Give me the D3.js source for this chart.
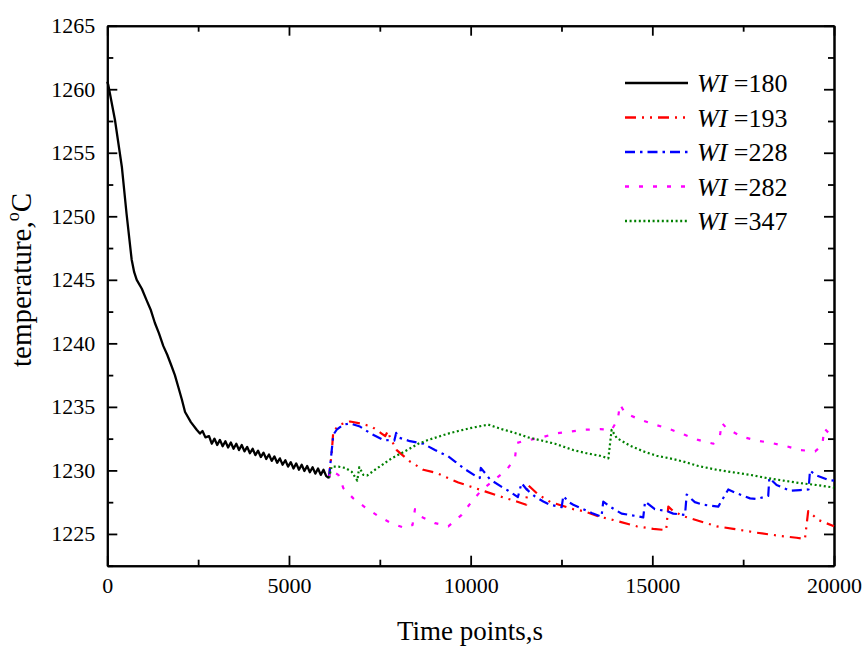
<!DOCTYPE html>
<html>
<head>
<meta charset="utf-8">
<script src="https://cdn.jsdelivr.net/npm/d3@7"></script>
<style>
  html, body { margin: 0; padding: 0; background: #ffffff; }
  svg { display: block; }
  text { font-family: "Liberation Serif", "Times New Roman", serif; fill: #000; }
</style>
</head>
<body>
<svg id="chart" width="862" height="646"></svg>
<script>
// ---------------- data ----------------
const xMajorTicks = [0, 5000, 10000, 15000, 20000];
const xMinorTicks = [2500, 7500, 12500, 17500];
const yMajorTicks = [1225, 1230, 1235, 1240, 1245, 1250, 1255, 1260, 1265];
const yMinorTicks = [1222.5, 1227.5, 1232.5, 1237.5, 1242.5, 1247.5, 1252.5, 1257.5, 1262.5];

const seriesNames = ["WI180", "WI193", "WI228", "WI282", "WI347"];
const legendValues = ["180", "193", "228", "282", "347"];
const seriesColors = ["#000000", "#ff0000", "#0000ff", "#ff00ff", "#008000"];

// WI = 180 : [time, temperature]
const wi180 = [
  [0,1260.6],[30,1260.3],[210,1257.6],[400,1253.9],[530,1250.2],[670,1246.6],[740,1245.6],
  [810,1245.0],[950,1244.3],[1080,1243.4],[1200,1242.6],[1310,1241.6],[1420,1240.8],[1540,1239.8],
  [1650,1239.1],[1770,1238.2],[1860,1237.5],[1950,1236.6],[2050,1235.6],[2140,1234.6],[2300,1233.8],
  [2460,1233.2],[2550,1232.9],[2620,1233.1],[2700,1232.6],
  [2800,1232.7],[2875,1232.1],[2950,1232.5],[3025,1232.0],[3100,1232.4],[3175,1231.9],
  [3250,1232.3],[3325,1231.8],[3400,1232.2],[3475,1231.7],[3550,1232.1],[3625,1231.6],
  [3700,1232.0],[3775,1231.5],[3850,1231.85],[3925,1231.35],[4000,1231.7],[4075,1231.2],
  [4150,1231.55],[4225,1231.05],[4300,1231.4],[4375,1230.9],[4450,1231.25],[4525,1230.75],
  [4600,1231.1],[4675,1230.6],[4750,1230.95],[4825,1230.45],[4900,1230.8],[4975,1230.3],
  [5050,1230.65],[5125,1230.15],[5200,1230.55],[5275,1230.05],[5350,1230.45],[5425,1229.95],
  [5500,1230.35],[5575,1229.85],[5650,1230.25],[5725,1229.75],[5800,1230.15],[5875,1229.65],
  [5950,1230.05],[6025,1229.55],[6100,1229.4]
];

// WI = 193
const wi193 = [
  [6100,1229.4],[6180,1231.5],[6220,1233.1],[6400,1233.6],[6680,1233.85],[6955,1233.7],
  [7276,1233.45],[7550,1232.9],[7650,1232.7],[7720,1233.1],[7780,1232.6],[7965,1231.6],
  [8330,1230.7],[8697,1230.05],[9065,1229.8],[9293,1229.5],[9660,1229.05],[10028,1228.7],
  [10394,1228.35],[10760,1228.0],[11267,1227.55],[11530,1227.3],[11560,1228.9],[11861,1228.1],
  [12200,1227.5],[12825,1226.95],[13100,1226.8],[13560,1226.35],[13925,1226.1],[14570,1225.6],
  [15025,1225.4],[15380,1225.3],[15440,1227.15],[15575,1226.8],[15850,1226.4],[16310,1226.0],
  [16770,1225.6],[17230,1225.4],[17870,1225.1],[18510,1224.85],[18970,1224.7],[19200,1224.6],
  [19290,1226.8],[19570,1226.1],[20000,1225.6]
];

// WI = 228
const wi228 = [
  [6100,1229.4],[6220,1232.8],[6313,1233.2],[6497,1233.6],[6680,1233.7],[6955,1233.45],
  [7250,1232.9],[7596,1232.4],[7900,1232.35],[7950,1232.95],[8000,1232.6],[8330,1232.3],
  [8700,1232.1],[9018,1231.6],[9385,1231.1],[9570,1230.7],[9844,1230.1],[10166,1229.5],
  [10250,1229.4],[10280,1230.2],[10394,1229.8],[10530,1229.3],[10855,1228.7],[11035,1228.4],
  [11300,1227.9],[11400,1229.0],[11542,1228.5],[11770,1227.95],[12000,1227.55],[12180,1227.3],
  [12505,1227.1],[12550,1228.0],[12700,1227.5],[12825,1227.3],[13055,1227.0],[13330,1226.65],
  [13600,1226.35],[13650,1227.55],[13835,1227.15],[14155,1226.6],[14570,1226.4],[14750,1226.3],
  [14800,1227.55],[15070,1226.95],[15395,1226.8],[15575,1226.6],[15900,1226.5],[15945,1228.1],
  [16170,1227.5],[16400,1227.3],[16815,1227.15],[17090,1228.5],[17320,1228.2],[17690,1227.8],
  [17870,1227.75],[18190,1228.0],[18220,1229.4],[18420,1228.85],[18790,1228.4],[19065,1228.45],
  [19300,1228.5],[19340,1230.0],[19480,1229.65],[19840,1229.25],[20000,1229.2]
];

// WI = 282
const wi282 = [
  [6100,1229.4],[6150,1230.0],[6360,1229.65],[6497,1228.6],[6770,1227.8],[7092,1227.1],
  [7458,1226.4],[7780,1225.9],[8193,1225.45],[8400,1225.7],[8468,1226.95],[8605,1226.4],
  [9018,1225.85],[9385,1225.6],[9753,1226.5],[10028,1227.55],[10303,1228.45],[10670,1229.3],
  [10992,1230.05],[11220,1230.95],[11267,1232.15],[11496,1232.35],[11908,1232.55],[12321,1232.9],
  [12734,1233.05],[13146,1233.2],[13560,1233.25],[13881,1233.2],[14050,1234.0],[14110,1235.2],
  [14250,1234.5],[14660,1234.0],[15070,1233.6],[15480,1233.25],[15890,1232.8],[16260,1232.4],
  [16680,1232.1],[16860,1232.7],[16910,1233.75],[17050,1233.3],[17460,1232.65],[17870,1232.35],
  [18290,1232.15],[18700,1231.9],[19065,1231.6],[19480,1231.5],[19680,1232.0],[19730,1233.3],
  [19910,1232.8],[20000,1232.6]
];

// WI = 347
const wi347 = [
  [6100,1229.4],[6175,1230.3],[6360,1230.3],[6540,1230.2],[6725,1229.9],[6880,1229.2],
  [6935,1230.25],[7045,1229.65],[7150,1229.6],[7367,1230.05],[7596,1230.5],[7826,1230.95],
  [8055,1231.3],[8284,1231.65],[8559,1232.1],[8834,1232.4],[9109,1232.65],[9385,1232.9],
  [9660,1233.1],[10028,1233.35],[10486,1233.6],[10855,1233.25],[11220,1232.95],[11586,1232.6],
  [11955,1232.35],[12321,1232.1],[12825,1231.6],[13193,1231.35],[13560,1231.15],[13790,1230.95],
  [13880,1233.2],[14020,1232.55],[14385,1231.95],[14750,1231.5],[15120,1231.15],[15485,1230.95],
  [15850,1230.7],[16265,1230.35],[16770,1230.05],[17230,1229.85],[17690,1229.65],[18150,1229.4],
  [18605,1229.2],[19065,1229.0],[19520,1228.85],[20000,1228.65]
];

const allSeries = [wi180, wi193, wi228, wi282, wi347];

// ---------------- styles ----------------
const dashes = [null, "11,6,2,6,2,6", "10,5,2.5,5", "4,10", "2,2.6"];
const lineWidths = [2.3, 2.2, 2.2, 2.2, 2.2];

// ---------------- drawing ----------------
const svg = d3.select("#chart");
const W = 862, H = 646;
const plot = { left: 107.3, top: 25.7, right: 834, bottom: 565.7 };

const x = d3.scaleLinear().domain([0, 20000]).range([plot.left, plot.right]);
const y = d3.scaleLinear().domain([1222.5, 1265]).range([plot.bottom, plot.top]);

svg.append("rect").attr("width", W).attr("height", H).attr("fill", "#ffffff");

const fontTick = 22;

function styleAxis(g) {
  g.selectAll("path.domain").attr("stroke", "#000").attr("stroke-width", 2);
  g.selectAll(".tick line").attr("stroke", "#000").attr("stroke-width", 1.8);
  g.selectAll(".tick text").attr("font-size", fontTick)
    .attr("font-family", '"Liberation Serif", "Times New Roman", serif').attr("fill", "#000");
}

// bottom
svg.append("g").attr("transform", `translate(0,${plot.bottom})`)
  .call(d3.axisBottom(x).tickValues(xMajorTicks).tickFormat(d3.format("d"))
    .tickSizeInner(-10).tickSizeOuter(0).tickPadding(12))
  .call(styleAxis);
svg.append("g").attr("transform", `translate(0,${plot.bottom})`)
  .call(d3.axisBottom(x).tickValues(xMinorTicks).tickFormat("").tickSizeInner(-6).tickSizeOuter(0))
  .call(styleAxis);
// top
svg.append("g").attr("transform", `translate(0,${plot.top})`)
  .call(d3.axisTop(x).tickValues(xMajorTicks).tickFormat("").tickSizeInner(-10).tickSizeOuter(0))
  .call(styleAxis);
svg.append("g").attr("transform", `translate(0,${plot.top})`)
  .call(d3.axisTop(x).tickValues(xMinorTicks).tickFormat("").tickSizeInner(-6).tickSizeOuter(0))
  .call(styleAxis);
// left
svg.append("g").attr("transform", `translate(${plot.left},0)`)
  .call(d3.axisLeft(y).tickValues(yMajorTicks).tickFormat(d3.format("d"))
    .tickSizeInner(-10).tickSizeOuter(0).tickPadding(12))
  .call(styleAxis);
svg.append("g").attr("transform", `translate(${plot.left},0)`)
  .call(d3.axisLeft(y).tickValues(yMinorTicks).tickFormat("").tickSizeInner(-6).tickSizeOuter(0))
  .call(styleAxis);
// right
svg.append("g").attr("transform", `translate(${plot.right},0)`)
  .call(d3.axisRight(y).tickValues(yMajorTicks).tickFormat("").tickSizeInner(-10).tickSizeOuter(0))
  .call(styleAxis);
svg.append("g").attr("transform", `translate(${plot.right},0)`)
  .call(d3.axisRight(y).tickValues(yMinorTicks).tickFormat("").tickSizeInner(-6).tickSizeOuter(0))
  .call(styleAxis);

// lines
const line = d3.line().x(d => x(d[0])).y(d => y(d[1]));
const linesG = svg.append("g");
[1, 2, 3, 4, 0].forEach(i => {
  linesG.append("path")
    .datum(allSeries[i])
    .attr("d", line)
    .attr("fill", "none")
    .attr("stroke", seriesColors[i])
    .attr("stroke-width", lineWidths[i])
    .attr("stroke-linejoin", "round")
    .attr("stroke-dasharray", dashes[i]);
});

// legend
const legendG = svg.append("g");
const legendY = d3.scaleLinear().domain([0, 4]).range([83, 221]);
seriesNames.forEach((name, i) => {
  const yy = legendY(i);
  legendG.append("line")
    .attr("x1", 625).attr("x2", 688).attr("y1", yy).attr("y2", yy)
    .attr("stroke", seriesColors[i]).attr("stroke-width", 2.6)
    .attr("stroke-dasharray", dashes[i]);
  const t = legendG.append("text").attr("x", 697).attr("y", yy + 9).attr("font-size", 26);
  t.append("tspan").attr("font-style", "italic").text("WI");
  t.append("tspan").text(" =" + legendValues[i]);
});

// axis titles
svg.append("text").attr("x", 470).attr("y", 640).attr("text-anchor", "middle")
  .attr("font-size", 27).text("Time points,s");

const yt = svg.append("text").attr("transform", "translate(31,280) rotate(-90)")
  .attr("text-anchor", "middle").attr("font-size", 29);
yt.append("tspan").text("temperature,");
yt.append("tspan").attr("font-size", 18).attr("dy", -12).text("o");
yt.append("tspan").attr("dy", 12).text("C");
</script>
</body>
</html>
